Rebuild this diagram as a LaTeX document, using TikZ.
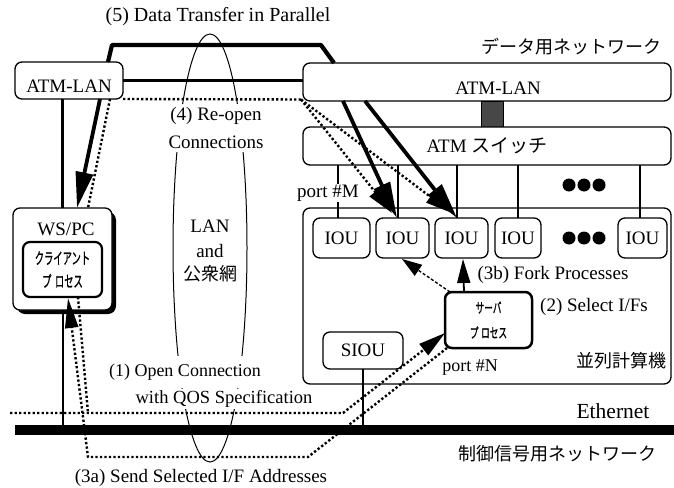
\documentclass[tikz,border=0pt]{standalone}
\usepackage{fontspec}
\usepackage{graphicx}
\setmainfont{Liberation Serif}
\newfontfamily\cjk{Noto Sans CJK JP}
\newfontfamily\cjkb[FakeBold=1.2]{Noto Sans CJK JP}
\usetikzlibrary{arrows.meta,shapes.geometric}
\begin{document}
\begin{tikzpicture}[x=1pt,y=-1pt,
  every node/.style={inner sep=0pt,outer sep=0pt,font=\fontsize{19}{22}\selectfont},
  jp/.style={font=\cjk\fontsize{18}{22}\selectfont},
  box/.style={draw,fill=white,rounded corners=7pt,line width=1.3pt},
  lbl/.style={fill=white,inner xsep=2pt},
  thickln/.style={line width=3.8pt},
  dotln/.style={line width=2.4pt,dash pattern=on 2.3pt off 2.2pt},
  headA/.style={-{Triangle[length=36pt,width=17pt]}},
  headB/.style={-{Triangle[length=27pt,width=14pt]}},
  headC/.style={-{Triangle[length=20pt,width=13pt]}},
  portln/.style={line width=2.6pt},
  dotmark/.style={circle,fill,minimum size=13pt},
]
\useasboundingbox (0,0) rectangle (674,487);

% lens (LAN and public network)
\node[draw,ellipse,line width=1pt,minimum width=74pt,minimum height=428pt] (lens) at (210,248) {};
\node[lbl,align=center,font=\fontsize{19}{28}\selectfont,inner ysep=3pt] (reopen) at (216,128) {(4) Re-open\\Connections};
\node (lan) at (210,226) {LAN};
\node (and) at (210,251) {and};
\node[jp] (pub) at (210,274) {公衆網};
\node[lbl,inner ysep=8pt,font=\fontsize{18}{22}\selectfont] (open1) at (185,372) {(1) Open Connection};
\node[lbl,inner ysep=2pt,font=\fontsize{18.5}{22}\selectfont] (open2) at (224,399) {with QOS Specification};

\node[font=\fontsize{20}{22}\selectfont] (title) at (218,17) {(5) Data Transfer in Parallel};

% boxes
\node[box,minimum width=108pt,minimum height=37pt] (lanL) at (69,80.5) {};
\node (lanLt) at (69,86.5) {ATM-LAN};
\node[box,minimum width=368pt,minimum height=38pt] (lanR) at (487,82) {};
\node (lanRt) at (498,88) {ATM-LAN};
\node[draw,fill=black!72,line width=0.8pt,minimum width=22pt,minimum height=26pt] (hub) at (492,114) {};
\node[box,minimum width=368pt,minimum height=38pt] (sw) at (487,146) {ATM {\cjk スイッチ}};
\node[box,minimum width=368pt,minimum height=176pt] (par) at (487,296) {};

\node[box,minimum width=57pt,minimum height=40pt] (iou1) at (341.5,238) {IOU};
\node[box,minimum width=53pt,minimum height=40pt] (iou2) at (402.5,238) {IOU};
\node[box,minimum width=53pt,minimum height=40pt] (iou3) at (461.5,238) {IOU};
\node[box,minimum width=46pt,minimum height=40pt] (iou4) at (518,238) {IOU};
\node[box,minimum width=49pt,minimum height=40pt] (iou5) at (642.5,238) {IOU};

\node[dotmark] (da1) at (569,185) {};
\node[dotmark] (da2) at (584,185) {};
\node[dotmark] (da3) at (599,185) {};
\node[dotmark] (db1) at (569,238) {};
\node[dotmark] (db2) at (584,238) {};
\node[dotmark] (db3) at (599,238) {};

% port lines
\coordinate (p1) at (338,165);
\coordinate (p2) at (398,165);
\coordinate (p3) at (457,165);
\coordinate (p4) at (518,165);
\coordinate (p5) at (640,165);
\draw[portln] (p1) -- (p1 |- iou1.north);
\draw[portln] (p2) -- (p2 |- iou2.north);
\draw[portln] (p3) -- (p3 |- iou3.north);
\draw[portln] (p4) -- (p4 |- iou4.north);
\draw[portln] (p5) -- (p5 |- iou5.north);
\node[lbl,inner ysep=1pt] (pM) at (328,193) {port \#M};

\node[box,minimum width=80pt,minimum height=37pt] (siou) at (363,350.5) {SIOU};
\node[box,line width=2.5pt,minimum width=87pt,minimum height=56pt,align=center,font=\cjkb\fontsize{14}{25}\selectfont] (srv) at (488.5,320) {\scalebox{0.62}[1]{サーバ}\\\scalebox{0.62}[1]{プ\hspace{4pt}ロセス}};

\node[fill,rounded corners=8pt,minimum width=99pt,minimum height=102pt] (wsshadow) at (66.5,263) {};
\node[box,minimum width=99pt,minimum height=102pt] (ws) at (62.5,259) {};
\node (wst) at (66,229) {WS/PC};
\node[box,line width=2.2pt,minimum width=79pt,minimum height=55pt,align=center,font=\cjkb\fontsize{16}{23}\selectfont] (cli) at (62.5,269.5) {\scalebox{0.58}[1]{クライアント}\\\scalebox{0.58}[1]{プ\hspace{6pt}ロセス}};

\node[fill,minimum width=659pt,minimum height=10pt] (bar) at (344.5,430) {};

% labels
\node[jp] (dnet) at (571,47) {データ用ネットワーク};
\node[jp] (cnet) at (557,454) {制御信号用ネットワーク};
\node[jp] (pc) at (621,361) {並列計算機};
\node[font=\fontsize{21.5}{22}\selectfont] (eth) at (613,411) {Ethernet};
\node[font=\fontsize{18}{22}\selectfont] (pN) at (470,368) {port \#N};
\node (sel) at (594,307) {(2) Select I/Fs};
\node (fork) at (553,275) {(3b) Fork Processes};
\node (send) at (201,478) {(3a) Send Selected I/F Addresses};

% (5) thick data lines
\coordinate (tA) at (108,62);
\coordinate (tB) at (112,45);
\coordinate (tC) at (321,45);
\coordinate (tD) at (334,63);
\draw[line width=4.2pt,line join=round] (tA) -- (tB) -- (tC) -- (tD);
\draw[line width=3.6pt] (lanL.east) -- (lanL.east -| lanR.west);
\coordinate (b0) at (343,101);
\coordinate (b1) at (397,218);
\coordinate (c0) at (365,101);
\coordinate (c1) at (457,218);
\draw[thickln,headA] (b0) -- (b1);
\draw[thickln,headA] (c0) -- (c1);
\coordinate (w0) at (100,99);
\coordinate (w1) at (77,208);
\draw[thickln,headA] (w0) -- (w1);
\draw[line width=3.2pt] (ws.north |- lanL.south) -- (ws.north);

% (4) dotted re-open
\coordinate (dp) at (301,99.5);
\coordinate (a1) at (392,213);
\coordinate (a2) at (452,213);
\draw[dotln] (lanL.south east) -- (dp);
\draw[dotln,headB] (dp) -- (a1);
\draw[dotln,headB] (dp) -- (a2);
\coordinate (v0) at (110,99);
\coordinate (v1) at (88,208);
\draw[dotln] (v0) -- (v1);

% bottom solid lines
\draw[line width=2pt] (ws.south) -- (ws.south |- bar.north);
\draw[line width=1.7pt] (siou.south) -- (siou.south |- bar.north);

% (1) open connection
\coordinate (o0) at (78,297);
\coordinate (o1) at (88,413);
\draw[dotln] (o0) -- (o1);
\coordinate (e0) at (10,413);
\coordinate (e1) at (343,413);
\coordinate (e2) at (445,333);
\draw[dotln,headB,line join=round] (e0) -- (e1) -- (e2);

% (3a) send selected addresses
\coordinate (s0) at (447,348);
\coordinate (s1) at (308,457);
\coordinate (s2) at (88,457);
\coordinate (s3) at (68,298);
\draw[dotln,line join=round,-{Triangle[length=30pt,width=13pt]}] (s0) -- (s1) -- (s2) -- (s3);

% (3b) fork
\coordinate (f0) at (450,292);
\coordinate (f1) at (402,259);
\draw[line width=1.4pt,dash pattern=on 3pt off 2pt,headC] (f0) -- (f1);
\coordinate (g0) at (464,292);
\coordinate (g1) at (463,259);
\draw[line width=1.8pt,-{Triangle[length=24pt,width=13pt]}] (g0) -- (g1);
\end{tikzpicture}
\end{document}
